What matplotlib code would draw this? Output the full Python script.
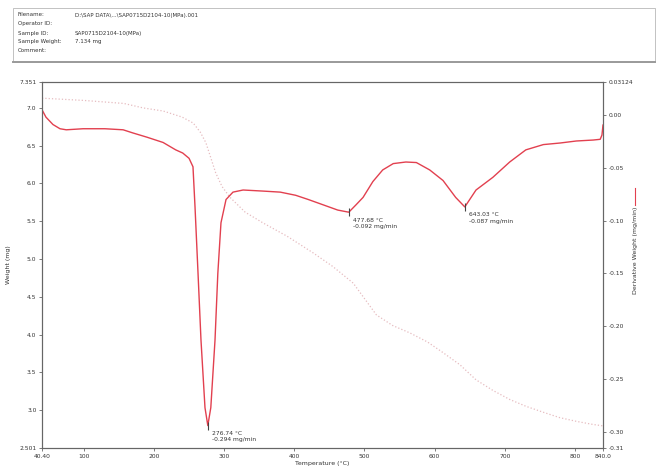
import numpy as np
import matplotlib
matplotlib.use('Agg')
import matplotlib.pyplot as plt
from matplotlib.patches import Rectangle
from matplotlib.lines import Line2D

plt.rcParams['font.family'] = 'DejaVu Sans'
plt.rcParams['font.size'] = 4.5

# weight curve (mg) vs temperature (C)
temp_w = [40.4, 100, 157, 185, 213, 240, 256, 266, 274, 281, 288, 297, 308, 330, 355, 390,
          427, 455, 484, 517, 540, 565, 590, 612, 636, 659, 683, 707, 730, 755, 778, 802, 825, 840]
weight = [7.13, 7.10, 7.06, 7.00, 6.96, 6.88, 6.80, 6.68, 6.54, 6.34, 6.14, 5.96, 5.82, 5.62, 5.48, 5.30,
          5.08, 4.90, 4.68, 4.26, 4.12, 4.02, 3.90, 3.76, 3.60, 3.40, 3.26, 3.14, 3.05, 2.97, 2.90, 2.85, 2.81, 2.79]

# derivative weight (mg/min)
temp_d = [40.4, 46, 56, 66, 75, 99, 130, 156, 170, 190, 213, 231, 241, 250, 255.6, 258.5, 262.8, 267,
          272.7, 276.74, 281, 287, 291, 295.5, 302.7, 312.6, 327, 355, 380, 402, 420, 441, 462, 477.68,
          488, 498, 512, 526, 541, 559, 574, 593, 612, 630, 643.03, 659, 683, 707, 730, 755, 779, 802,
          826, 836, 838.5, 840]
dtg = [0.005, -0.002, -0.009, -0.013, -0.014, -0.013, -0.013, -0.014, -0.017, -0.021, -0.026, -0.033,
       -0.036, -0.041, -0.049, -0.087, -0.150, -0.213, -0.277, -0.294, -0.277, -0.213, -0.150, -0.102,
       -0.080, -0.073, -0.071, -0.072, -0.073, -0.076, -0.080, -0.085, -0.090, -0.092, -0.085, -0.078,
       -0.063, -0.052, -0.046, -0.0445, -0.045, -0.052, -0.062, -0.078, -0.087, -0.071, -0.059, -0.0445,
       -0.033, -0.028, -0.0265, -0.0246, -0.0237, -0.023, -0.019, -0.0095]

peak_t = [276.74, 477.68, 643.03]
peak_d = [-0.294, -0.092, -0.087]
peak_txt = ['276.74 °C\n-0.294 mg/min', '477.68 °C\n-0.092 mg/min', '643.03 °C\n-0.087 mg/min']

xticks = [40.4, 100, 200, 300, 400, 500, 600, 700, 800, 840.0]
xtick_labels = ['40.40', '100', '200', '300', '400', '500', '600', '700', '800', '840.0']
wticks = [2.497, 3.0, 3.5, 4.0, 4.5, 5.0, 5.5, 6.0, 6.5, 7.0, 7.344]
wtick_labels = ['2.501', '3.0', '3.5', '4.0', '4.5', '5.0', '5.5', '6.0', '6.5', '7.0', '7.351']
dticks = [-0.3152, -0.30, -0.25, -0.20, -0.15, -0.10, -0.05, 0.00, 0.03124]
dtick_labels = ['-0.31', '-0.30', '-0.25', '-0.20', '-0.15', '-0.10', '-0.05', '0.00', '0.03124']

header_keys = ['Filename:', 'Operator ID:', 'Sample ID:', 'Sample Weight:', 'Comment:']
header_vals = ['D:\\SAP DATA\\...\\SAP0715D2104-10(MPa).001', '', 'SAP0715D2104-10(MPa)', '7.134 mg', '']

W, H = 660, 475
fig = plt.figure(figsize=(6.6, 4.75), dpi=100)

# header box
fig.patches.append(Rectangle((13 / W, 1 - 62 / H), 642 / W, 54 / H, transform=fig.transFigure,
                             fill=False, edgecolor='#b8b8b8', lw=0.6))
fig.lines.append(Line2D([13 / W, 655 / W], [1 - 62 / H, 1 - 62 / H], transform=fig.transFigure,
                        color='#9a9a9a', lw=1.4))
for i, (k, v) in enumerate(zip(header_keys, header_vals)):
    yy = 1 - (15 + i * 9) / H
    fig.text(18 / W, yy, k, fontsize=4, va='center', color='#333333')
    fig.text(75 / W, yy, v, fontsize=4, va='center', color='#333333')

ax = fig.add_axes([42 / W, 1 - 448 / H, 561 / W, 366 / H])
ax2 = ax.twinx()

ax.plot(temp_w, weight, ls=':', lw=0.9, color='#e6bcc0')
ax2.plot(temp_d, dtg, ls='-', lw=1.0, color='#e2404f')
ax2.plot(peak_t, peak_d, ls='none', marker='|', ms=6, mew=0.8, color='#444444')
for t, d, s in zip(peak_t, peak_d, peak_txt):
    ax2.annotate(s, (t, d), xytext=(3, -8), textcoords='offset points', fontsize=4.3,
                 va='center', ha='left', color='#333333', linespacing=1.3)

ax.set_xlim(40.4, 840.0)
ax.set_ylim(2.497, 7.344)
ax2.set_ylim(-0.3152, 0.03124)
ax.set_xticks(xticks)
ax.set_xticklabels(xtick_labels)
ax.set_yticks(wticks)
ax.set_yticklabels(wtick_labels)
ax2.set_yticks(dticks)
ax2.set_yticklabels(dtick_labels)

for a in (ax, ax2):
    for sp in a.spines.values():
        sp.set_color('#666666')
        sp.set_linewidth(0.8)
    a.tick_params(length=2, width=0.6, color='#666666', labelsize=4.3, labelcolor='#333333', pad=2)

ax.set_xlabel('Temperature (°C)', fontsize=4.5, labelpad=2, color='#333333')
ax.set_ylabel('Weight (mg)', fontsize=4.5, labelpad=6, color='#333333')
ax2.set_ylabel('Derivative Weight (mg/min)', fontsize=4.5, color='#333333', va='center')
ax2.yaxis.set_label_coords((635 - 42) / 561, (448 - 250) / 366)
fig.lines.append(Line2D([635 / W, 635 / W], [1 - 205 / H, 1 - 188 / H], transform=fig.transFigure,
                        color='#e2404f', lw=0.8))

fig.savefig('out.png', dpi=100)
